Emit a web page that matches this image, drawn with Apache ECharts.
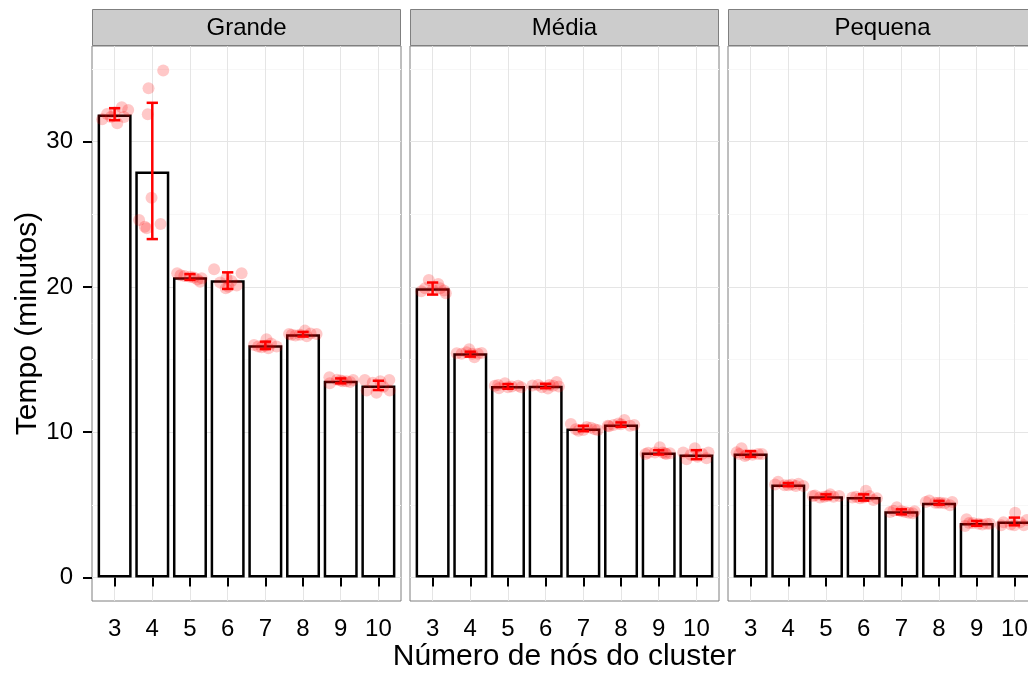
<!DOCTYPE html>
<html>
<head>
<meta charset="utf-8">
<script src="https://cdn.jsdelivr.net/npm/echarts@6/dist/echarts.min.js"></script>
<style>
  html, body { margin: 0; background: #fff; overflow: hidden; }
  /* o último painel é cortado na borda direita, como no original */
  #chart { width: 1045px; height: 674px; }
</style>
</head>
<body>
<div id="chart"></div>
<script>
// dados
const facets = ['Grande', 'Média', 'Pequena']
const nodes = [3, 4, 5, 6, 7, 8, 9, 10]
const yTicks = [0, 10, 20, 30]
const yMinorTicks = [5, 15, 25, 35]

const meanGrande = [31.86, 27.95, 20.67, 20.46, 15.98, 16.74, 13.54, 13.22]
const meanMedia = [19.91, 15.43, 13.17, 13.20, 10.25, 10.53, 8.60, 8.46]
const meanPequena = [8.53, 6.39, 5.59, 5.54, 4.55, 5.15, 3.75, 3.86]

const lowGrande = [31.47, 23.29, 20.48, 19.86, 15.72, 16.58, 13.36, 12.90]
const highGrande = [32.30, 32.67, 20.88, 21.00, 16.23, 16.90, 13.70, 13.54]
const lowMedia = [19.47, 15.20, 12.99, 13.03, 10.07, 10.37, 8.46, 8.14]
const highMedia = [20.30, 15.54, 13.31, 13.33, 10.44, 10.67, 8.76, 8.76]
const lowPequena = [8.30, 6.28, 5.40, 5.29, 4.34, 5.01, 3.56, 3.59]
const highPequena = [8.69, 6.50, 5.72, 5.72, 4.69, 5.27, 3.89, 4.12]

// pontos com jitter: [deslocamento em x, tempo]
const jitterGrande = [
  [[-0.33, 31.53], [0.19, 32.36], [0.36, 32.17], [0.07, 31.26], [-0.2, 31.9], [0.0, 32.0], [0.25, 31.7], [-0.1, 31.7]],
  [[0.29, 34.9], [-0.1, 33.67], [-0.12, 31.88], [-0.02, 26.14], [-0.35, 24.6], [-0.2, 24.14], [-0.15, 24.03], [0.22, 24.33]],
  [[-0.34, 20.94], [0.27, 20.36], [0.0, 20.7], [0.31, 20.6], [-0.15, 20.75], [0.1, 20.65], [-0.25, 20.8], [0.2, 20.5]],
  [[-0.36, 21.21], [0.37, 20.94], [0.02, 20.01], [0.24, 20.1], [-0.03, 20.59], [-0.2, 20.3], [0.1, 20.4], [-0.05, 19.9]],
  [[0.03, 16.39], [-0.19, 15.89], [0.08, 15.77], [-0.3, 16.0], [0.3, 15.9], [0.15, 16.1], [-0.1, 15.85], [0.0, 15.95]],
  [[-0.37, 16.76], [0.05, 16.99], [0.36, 16.75], [-0.08, 16.7], [-0.2, 16.65], [0.2, 16.8], [0.1, 16.6], [-0.3, 16.7]],
  [[-0.3, 13.78], [0.33, 13.59], [-0.29, 13.36], [0.0, 13.55], [0.15, 13.5], [-0.1, 13.6], [0.25, 13.45], [0.05, 13.5]],
  [[-0.36, 13.59], [0.29, 13.59], [-0.31, 12.86], [0.3, 12.86], [-0.05, 12.72], [0.13, 13.13], [-0.15, 13.4], [0.05, 13.5]]
]
const jitterMedia = [
  [[-0.1, 20.47], [0.15, 20.2], [0.35, 19.56], [0.2, 19.9], [-0.3, 19.7], [-0.2, 19.9], [0.0, 19.8], [0.3, 19.75]],
  [[-0.36, 15.43], [-0.03, 15.7], [0.11, 15.15], [-0.23, 15.4], [0.3, 15.45], [0.2, 15.4], [-0.1, 15.5], [0.05, 15.4]],
  [[-0.24, 13.02], [-0.08, 13.37], [0.27, 13.2], [-0.26, 13.25], [0.1, 13.15], [0.35, 13.1], [-0.35, 13.2], [0.0, 13.1]],
  [[-0.35, 13.22], [0.29, 13.45], [0.06, 13.0], [-0.1, 13.1], [0.2, 13.2], [-0.2, 13.25], [0.35, 13.15], [0.1, 13.25]],
  [[-0.33, 10.56], [-0.13, 10.1], [0.38, 10.15], [0.09, 10.35], [-0.2, 10.2], [0.2, 10.3], [0.0, 10.15], [0.3, 10.2]],
  [[-0.32, 10.4], [0.09, 10.84], [0.24, 10.45], [-0.07, 10.6], [-0.2, 10.5], [0.35, 10.5], [0.0, 10.55], [-0.35, 10.45]],
  [[-0.28, 8.58], [0.03, 8.96], [0.17, 8.55], [-0.1, 8.6], [0.3, 8.55], [-0.35, 8.5], [0.1, 8.6], [0.2, 8.5]],
  [[-0.04, 8.89], [0.32, 8.6], [-0.26, 8.13], [0.27, 8.2], [0.03, 8.3], [-0.35, 8.6], [0.15, 8.5], [-0.15, 8.45]]
]
const jitterPequena = [
  [[-0.37, 8.61], [-0.24, 8.89], [-0.15, 8.36], [0.2, 8.5], [0.05, 8.45], [-0.3, 8.5], [0.3, 8.5], [-0.1, 8.45]],
  [[-0.27, 6.59], [0.27, 6.45], [0.4, 6.3], [-0.35, 6.4], [-0.1, 6.35], [0.1, 6.4], [0.2, 6.3], [0.0, 6.35]],
  [[-0.29, 5.65], [0.11, 5.72], [-0.16, 5.5], [0.2, 5.55], [0.35, 5.6], [-0.05, 5.55], [0.05, 5.6], [-0.35, 5.6]],
  [[0.06, 5.97], [0.26, 5.33], [-0.1, 5.45], [-0.3, 5.5], [0.35, 5.45], [-0.2, 5.55], [0.15, 5.6], [0.0, 5.5]],
  [[-0.12, 4.83], [0.3, 4.42], [-0.21, 4.6], [0.1, 4.5], [-0.3, 4.5], [0.2, 4.45], [0.0, 4.55], [0.35, 4.55]],
  [[-0.26, 5.3], [0.29, 4.97], [-0.02, 5.15], [-0.35, 5.2], [0.15, 5.1], [0.35, 5.2], [-0.1, 5.15], [0.05, 5.15]],
  [[-0.27, 4.01], [0.27, 3.69], [-0.31, 3.54], [0.05, 3.7], [-0.1, 3.75], [0.35, 3.7], [0.15, 3.65], [-0.2, 3.75]],
  [[0.02, 4.46], [-0.29, 3.8], [0.15, 3.8], [0.33, 3.95], [-0.35, 3.6], [-0.1, 3.65], [0.25, 3.6], [0.0, 3.6]]
]

const means = [meanGrande, meanMedia, meanPequena]
const lows = [lowGrande, lowMedia, lowPequena]
const highs = [highGrande, highMedia, highPequena]
const jitters = [jitterGrande, jitterMedia, jitterPequena]

// layout dos painéis (facet_grid)
const panelLeft = [92, 410, 728]
const panelWidth = 309
const panelTop = 46
const panelHeight = 555
const font = '"Liberation Sans", Arial, sans-serif'

const chart = echarts.init(document.getElementById('chart'))

const grids = panelLeft.map(left => ({
  left,
  top: panelTop,
  width: panelWidth,
  height: panelHeight,
  show: true,
  backgroundColor: '#fff',
  borderColor: '#7f7f7f',
  borderWidth: 1
}))

const xAxes = facets.map((f, i) => ({
  type: 'value',
  gridIndex: i,
  min: 2.4,
  max: 10.6,
  axisLine: { show: false },
  axisTick: {
    show: true,
    customValues: nodes,
    length: 9,
    lineStyle: { color: '#000', width: 2 }
  },
  axisLabel: {
    customValues: nodes,
    fontSize: 24,
    color: '#000',
    fontFamily: font,
    margin: 16
  },
  splitLine: { show: true, lineStyle: { color: '#e5e5e5', width: 1 } }
}))

const yMajor = facets.map((f, i) => ({
  type: 'value',
  gridIndex: i,
  min: -1.62,
  max: 36.58,
  axisLine: { show: false },
  axisTick: {
    show: i === 0,
    customValues: yTicks,
    length: 9,
    lineStyle: { color: '#000', width: 2 }
  },
  axisLabel: {
    show: i === 0,
    customValues: yTicks,
    fontSize: 24,
    color: '#000',
    fontFamily: font,
    margin: 19
  },
  splitLine: { show: true, lineStyle: { color: '#e5e5e5', width: 1 } }
}))

// linhas de grade menores
const yMinor = facets.map((f, i) => ({
  type: 'value',
  gridIndex: i,
  position: 'left',
  min: -1.62,
  max: 36.58,
  axisLine: { show: false },
  axisTick: { show: false, customValues: yMinorTicks },
  axisLabel: { show: false, customValues: yMinorTicks },
  splitLine: { show: true, lineStyle: { color: '#f7f7f7', width: 1 } }
}))

const series = []
facets.forEach((f, i) => {
  series.push({
    type: 'bar',
    xAxisIndex: i,
    yAxisIndex: i,
    barWidth: 34,
    z: 2,
    silent: true,
    itemStyle: { color: '#fff', borderColor: '#000', borderWidth: 2.5 },
    data: nodes.map((n, k) => [n, means[i][k]])
  })
  series.push({
    type: 'scatter',
    xAxisIndex: i,
    yAxisIndex: i,
    symbolSize: 12,
    z: 3,
    silent: true,
    itemStyle: { color: 'rgba(255,0,0,0.27)' },
    data: jitters[i].flatMap((grp, k) => grp.map(p => [nodes[k] + p[0], p[1]]))
  })
  series.push({
    type: 'custom',
    xAxisIndex: i,
    yAxisIndex: i,
    z: 4,
    silent: true,
    encode: { x: 0, y: [1, 2] },
    data: nodes.map((n, k) => [n, lows[i][k], highs[i][k]]),
    renderItem (params, api) {
      const x = api.value(0)
      const lo = api.coord([x, api.value(1)])
      const hi = api.coord([x, api.value(2)])
      const half = api.size([0.15, 0])[0]
      const style = { stroke: '#ff0000', lineWidth: 2.5 }
      return {
        type: 'group',
        children: [
          { type: 'line', shape: { x1: lo[0], y1: lo[1], x2: hi[0], y2: hi[1] }, style },
          { type: 'line', shape: { x1: lo[0] - half, y1: lo[1], x2: lo[0] + half, y2: lo[1] }, style },
          { type: 'line', shape: { x1: hi[0] - half, y1: hi[1], x2: hi[0] + half, y2: hi[1] }, style }
        ]
      }
    }
  })
})

const graphics = []
facets.forEach((f, i) => {
  graphics.push({
    type: 'rect',
    shape: { x: panelLeft[i] + 0.5, y: 9.5, width: panelWidth - 1, height: 36 },
    style: { fill: '#cccccc', stroke: '#7f7f7f', lineWidth: 1 },
    silent: true
  })
  graphics.push({
    type: 'text',
    x: panelLeft[i] + panelWidth / 2,
    y: 28,
    style: {
      text: f,
      font: '24px ' + font,
      fill: '#000',
      textAlign: 'center',
      textVerticalAlign: 'middle'
    },
    silent: true
  })
})
graphics.push({
  type: 'text',
  x: 28,
  y: panelTop + panelHeight / 2,
  rotation: Math.PI / 2,
  style: {
    text: 'Tempo (minutos)',
    font: '30px ' + font,
    fill: '#000',
    textAlign: 'center',
    textVerticalAlign: 'middle'
  },
  silent: true
})
graphics.push({
  type: 'text',
  x: (panelLeft[0] + panelLeft[2] + panelWidth) / 2,
  y: 657,
  style: {
    text: 'Número de nós do cluster',
    font: '30px ' + font,
    fill: '#000',
    textAlign: 'center',
    textVerticalAlign: 'middle'
  },
  silent: true
})

chart.setOption({
  animation: false,
  backgroundColor: '#fff',
  textStyle: { fontFamily: font },
  grid: grids,
  xAxis: xAxes,
  yAxis: yMajor.concat(yMinor),
  series,
  graphic: graphics
})
</script>
</body>
</html>
